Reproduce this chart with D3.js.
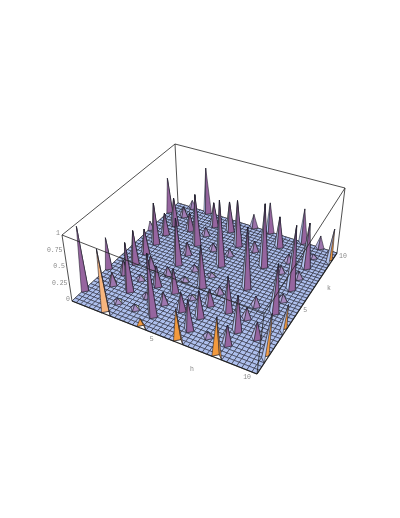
<!DOCTYPE html>
<html>
<head>
<meta charset="utf-8">
<script src="https://cdnjs.cloudflare.com/ajax/libs/d3/7.8.5/d3.min.js"></script>
<style>
  body { margin: 0; background: white; }
  text { font-family: "Liberation Mono", monospace; font-size: 6.5px; fill: #888; }
  .labels { filter: grayscale(1); }
</style>
</head>
<body>
<div id="chart"></div>
<script>
/* h, k surface - spikes, one entry per peak */
const spikeH = [0,0,0,0, 1,1,1,1,1,1,1,1,1, 2,2,2,2,2,2,2, 3,3,3,3,3,3,3,3,3, 4,4,4,4,4,4,4,4, 5,5,5,5,5,5,5,5, 6,6,6,6,6,6,6, 7,7,7,7,7, 8,8,8,8,8,8,8,8, 9,9,9,9,9,9,9,9, 10,10,10];
const spikeK = [1,3,7,9, 2,3,4,5,6,7,8,9,10, 0,1,2,3,4,8,10, 1,2,3,4,5,6,7,8,9, 0,1,2,3,4,5,7,9, 2,3,4,5,6,7,8,10, 0,1,2,3,4,8,10, 1,3,5,7,9, 0,1,2,3,4,7,8,10, 2,4,5,6,7,8,9,10, 1,3,9];
const spikeZ = [.96,.46,.12,.55, .18,.2,.5,.37,.63,.33,.43,.15,.12, .99,.06,.73,.07,.2,.27,.73, .07,.07,.3,.12,.71,.18,.78,.12,.37, .15,.95,.17,.35,.06,.08,.1,.46, .27,.05,.63,.05,1,.1,.7,.2, .53,.46,.4,.24,.1,.15,.46, .08,.53,.93,.96,.46, .66,.3,.55,.16,.15,.1,.12,.52, .25,.75,.1,.97,.1,.68,.05,.18, .75,.43,.52];

const zTicks = [0, 0.25, 0.5, 0.75, 1];
const zTickLabels = ["0", "0.25", "0.5", "0.75", "1"];
const hTicks = [5, 10];
const kTicks = [5, 10];

const width = 400, height = 518;
const cells = 40; // plot points per side

// box corners in order (h0,k0) (h10,k0) (h10,k10) (h0,k10)
const base = [[72,301],[257,374],[337,253],[178,203]];
const top_ = [[62,235],[264,314],[345,188],[175,144]];

function squareToQuad(q) {
    let sx = q[0][0]-q[1][0]+q[2][0]-q[3][0], sy = q[0][1]-q[1][1]+q[2][1]-q[3][1];
    let dx1 = q[1][0]-q[2][0], dx2 = q[3][0]-q[2][0], dy1 = q[1][1]-q[2][1], dy2 = q[3][1]-q[2][1];
    let det = dx1*dy2-dx2*dy1;
    let g = (sx*dy2-dx2*sy)/det, h = (dx1*sy-sx*dy1)/det;
    let a = q[1][0]-q[0][0]+g*q[1][0], b = q[3][0]-q[0][0]+h*q[3][0];
    let d = q[1][1]-q[0][1]+g*q[1][1], e = q[3][1]-q[0][1]+h*q[3][1];
    return (u, v) => {
        let w = g*u+h*v+1;
        return [(a*u+b*v+q[0][0])/w, (d*u+e*v+q[0][1])/w];
    };
}
const floor_ = squareToQuad(base), ceil_ = squareToQuad(top_);

let hScale = d3.scaleLinear().domain([0, 10]).range([0, 1]);
let kScale = d3.scaleLinear().domain([0, 10]).range([0, 1]);
let zScale = d3.scaleLinear().domain([0, 1]).range([0, 1]);

function project(h, k, z) {
    let u = hScale(h), v = kScale(k), t = zScale(z);
    let a = floor_(u, v), b = ceil_(u, v);
    return [a[0]+(b[0]-a[0])*t, a[1]+(b[1]-a[1])*t];
}

// height at every plot node, zero between the peaks
let nodes = new Map();
spikeH.forEach((h, n) => nodes.set(h*4 + "," + spikeK[n]*4, spikeZ[n]));
const nodeZ = (i, j) => nodes.get(i + "," + j) || 0;

const flat = "#aec0ee";
const orange = "#f29a3e";

// face colours by peak height, low peaks catch the light differently
let clampScale = (dom, colors) => d3.scaleLinear().domain(dom).range(colors).clamp(true);
const faces = {
    front: clampScale([0, 0.05, 0.25], [flat, "#ab93c8", "#96659f"]),
    left: clampScale([0, 0.06, 0.4], [flat, "#b3a6d6", "#b4c6f0"]),
    right: clampScale([0, 0.1, 0.35], [flat, "#d6e6a0", "#1c1c30"]),
    back: clampScale([0, 0.08, 0.14, 0.7, 1], [flat, "#2c4f96", orange, orange, "#f7b680"]),
    edge: clampScale([0, 0.7, 1], [orange, orange, "#f7b680"])
};

let polys = [];
for (let j = cells-1; j >= 0; j--) {
    for (let i = 0; i < cells; i++) {
        let corners = [[i,j],[i+1,j],[i+1,j+1],[i,j+1]];
        let zs = corners.map(c => nodeZ(c[0], c[1]));
        let pts = corners.map((c, n) => project(c[0]/4, c[1]/4, zs[n]));
        let up = zs.findIndex(z => z > 0);
        if (up < 0) {
            polys.push({ pts: pts, fill: flat });
        } else {
            // fold the cell: a flat floor triangle and a steep one up to the tip
            let a = pts[(up+1)%4], b = pts[(up+2)%4], c = pts[(up+3)%4];
            let face = ["right","back","left","front"][up];
            if (j == 0 && (face == "right" || face == "back")) face = "edge";
            polys.push({ pts: [a, b, c], fill: flat });
            polys.push({ pts: [pts[up], a, c], fill: faces[face](zs[up]) });
        }
    }
}

let svg = d3.select("#chart")
    .append("svg")
    .attr("width", width)
    .attr("height", height)
    .attr("viewBox", [0, 0, width, height]);

let line = d3.line().curve(d3.curveLinearClosed);
let edge = (a, b) => svg.append("path")
    .attr("d", d3.line()([a, b]))
    .attr("fill", "none")
    .attr("stroke", "#222")
    .attr("stroke-width", 0.8);

// back of the box
edge(top_[3], base[3]); edge(top_[3], top_[0]); edge(top_[3], top_[2]);
edge(base[3], base[0]); edge(base[3], base[2]);

svg.append("g")
    .selectAll("path")
    .data(polys)
    .join("path")
    .attr("d", d => line(d.pts))
    .attr("fill", d => d.fill)
    .attr("stroke", "#1c1c28")
    .attr("stroke-width", 0.55)
    .attr("stroke-linejoin", "round");

// front of the box
edge(top_[0], base[0]); edge(top_[2], base[2]); edge(top_[1], base[1]);
edge(top_[0], top_[1]); edge(top_[1], top_[2]);
edge(base[0], base[1]).attr("stroke-width", 1.2);
edge(base[1], base[2]).attr("stroke-width", 1.2);

// tick labels
let labels = svg.append("g").attr("class", "labels");

labels.selectAll(".ztick")
    .data(zTicks)
    .join("text")
    .attr("class", "ztick")
    .attr("text-anchor", "end")
    .attr("x", d => project(0, 0, d)[0] - 2)
    .attr("y", d => project(0, 0, d)[1])
    .text((d, n) => zTickLabels[n]);

labels.selectAll(".htick")
    .data(hTicks)
    .join("text")
    .attr("class", "htick")
    .attr("text-anchor", "end")
    .attr("x", d => project(d, 0, 0)[0] - 6)
    .attr("y", d => project(d, 0, 0)[1] + 5)
    .text(d => d);

labels.selectAll(".ktick")
    .data(kTicks)
    .join("text")
    .attr("class", "ktick")
    .attr("x", d => project(10, d, 0)[0] + 2)
    .attr("y", d => project(10, d, 0)[1] + 5)
    .text(d => d);

labels.append("text").attr("x", 190).attr("y", 371).text("h");
labels.append("text").attr("x", 327).attr("y", 290).text("k");
</script>
</body>
</html>
